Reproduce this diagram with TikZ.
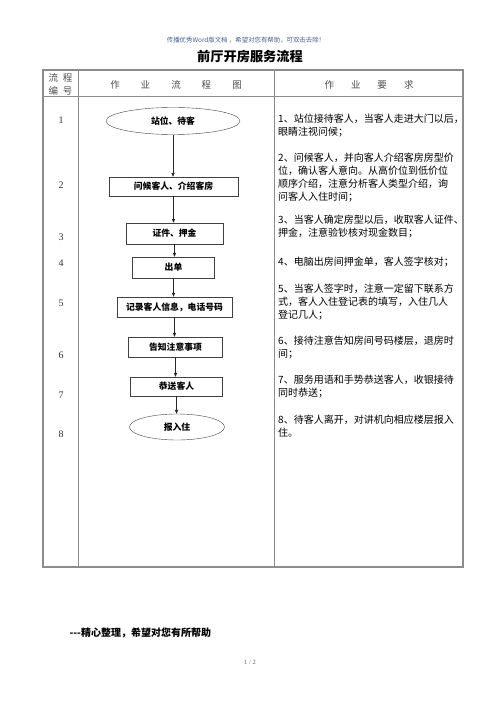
\documentclass[tikz,border=0pt]{standalone}
\usepackage{fontspec}
\setmainfont{Liberation Serif}
\newfontfamily\cjk{Noto Sans CJK SC}
\usepackage{xcolor}
\usetikzlibrary{arrows.meta,shapes.geometric}

\definecolor{notecol}{RGB}{70,95,140}
\definecolor{rulecol}{RGB}{140,140,140}

\begin{document}
\begin{tikzpicture}[x=1pt,y=-1pt,
  stepbox/.style={draw=black!75,rectangle,inner sep=0pt,font=\cjk\bfseries\fontsize{8.8}{10}\selectfont},
  endbox/.style={draw=black!75,ellipse,inner sep=0pt,font=\cjk\bfseries\fontsize{8.8}{10}\selectfont},
  arr/.style={-{Triangle[length=4pt,width=3.2pt]},black!85,line width=0.6pt},
  numtxt/.style={font=\fontsize{10}{12}\selectfont,text=black!80},
  reqtxt/.style={anchor=north west,inner sep=0pt,align=left,font=\cjk\fontsize{10}{13}\selectfont},
  headtxt/.style={font=\cjk\fontsize{9.5}{12}\selectfont,text=black!70}]
  \useasboundingbox (0,0) rectangle (500,708);
  % Page head
  \node[font=\cjk\fontsize{6.4}{8}\selectfont,text=notecol] (note) at (246,40)
    {传播优秀Word版文档 ，希望对您有帮助，可双击去除！};
  \node[font=\cjk\bfseries\fontsize{13.2}{16}\selectfont] (title) at (250,57) {前厅开房服务流程};
  % Table frame
  \draw[rulecol,line width=1.1pt] (43,70) rectangle (463,567);
  \draw[rulecol,line width=1pt] (43,97) -- (463,97);
  \draw[rulecol,line width=1pt] (78,70) -- (78,567);
  \draw[rulecol,line width=1pt] (274,70) -- (274,567);
  % Header row
  \node[headtxt,align=center,font=\cjk\fontsize{9.5}{13}\selectfont] (hnum) at (60.5,84.5) {流\hspace{5pt}程\\编\hspace{5pt}号};
  \node[headtxt] (hflow) at (176,84.5) {作\hspace{21pt}业\hspace{21pt}流\hspace{21pt}程\hspace{21pt}图};
  \node[headtxt] (hreq) at (369,84.5) {作\hspace{17pt}业\hspace{17pt}要\hspace{17pt}求};
  % Step numbers
  \foreach \n/\y in {1/120,2/185,3/237,4/263,5/303,6/355,7/395,8/434}
    \node[numtxt] (n\n) at (61,\y) {\n};
  % Flow chart
  \node[endbox,minimum width=134pt,minimum height=27pt] (s1) at (173,121) {站位、待客};
  \node[stepbox,minimum width=129pt,minimum height=19pt] (s2) at (173.5,186.5) {问候客人、介绍客房};
  \node[stepbox,minimum width=97pt,minimum height=21pt] (s3) at (174.5,233.5) {证件、押金};
  \node[stepbox,minimum width=82pt,minimum height=21pt] (s4) at (173.5,267.5) {出单};
  \node[stepbox,minimum width=115pt,minimum height=20pt] (s5) at (174.5,307) {记录客人信息，电话号码};
  \node[stepbox,minimum width=94pt,minimum height=20pt] (s6) at (175.5,347) {告知注意事项};
  \node[stepbox,minimum width=92pt,minimum height=19pt] (s7) at (176.5,386.5) {恭送客人};
  \node[endbox,minimum width=95pt,minimum height=26pt] (s8) at (177,427) {报入住};
  \foreach \a/\b in {s1/s2,s2/s3,s3/s4,s4/s5,s5/s6,s6/s7,s7/s8}
    \draw[arr] (\a.south) -- (\a.south |- \b.north);
  % Requirements
  \node[reqtxt] (r1) at (278,114.3) {1、站位接待客人，当客人走进大门以后，\\眼睛注视问候；};
  \node[reqtxt] (r2) at (278,153.3) {2、问候客人，并向客人介绍客房房型价\\位，确认客人意向。从高价位到低价位\\顺序介绍，注意分析客人类型介绍，询\\问客人入住时间；};
  \node[reqtxt] (r3) at (278,215) {3、当客人确定房型以后，收取客人证件、\\押金，注意验钞核对现金数目；};
  \node[reqtxt] (r4) at (278,257) {4、电脑出房间押金单，客人签字核对；};
  \node[reqtxt] (r5) at (278,284) {5、当客人签字时，注意一定留下联系方\\式，客人入住登记表的填写，入住几人\\登记几人；};
  \node[reqtxt] (r6) at (278,336) {6、接待注意告知房间号码楼层，退房时\\间；};
  \node[reqtxt] (r7) at (278,375) {7、服务用语和手势恭送客人，收银接待\\同时恭送；};
  \node[reqtxt] (r8) at (278,415) {8、待客人离开，对讲机向相应楼层报入\\住。};
  % Page foot
  \node[anchor=west,font=\cjk\bfseries\fontsize{10}{12}\selectfont] (foot) at (66,633) {---精心整理，希望对您有所帮助};
  \node[font=\fontsize{6.5}{8}\selectfont,text=black!60] (page) at (250,662) {1 / 2};
\end{tikzpicture}
\end{document}
